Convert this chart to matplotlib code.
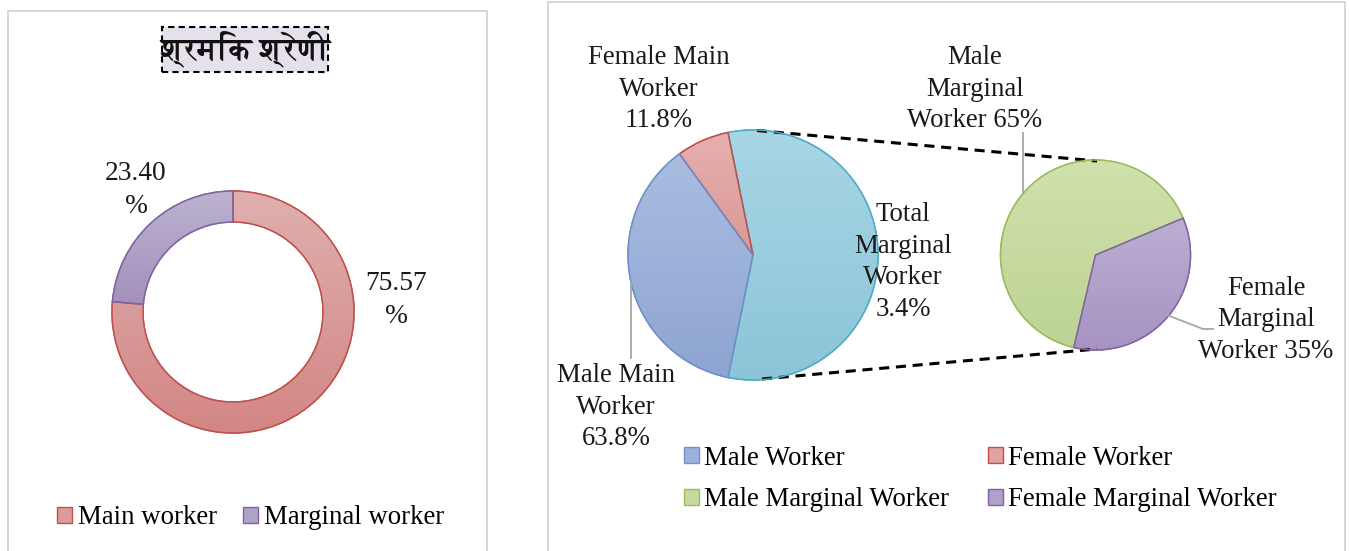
import numpy as np
import matplotlib
matplotlib.use('Agg')
import matplotlib.pyplot as plt
from matplotlib import font_manager
from matplotlib.ft2font import FT2Font
from matplotlib.patches import Rectangle, PathPatch
from matplotlib.colors import LinearSegmentedColormap, to_rgb

# ---------------- data ----------------
donut_categories = ['Main worker', 'Marginal worker']
donut_values = [75.57, 23.40]
donut_labels = ['75.57\n%', '23.40\n%']
title_text = 'श्रमिक श्रेणी'

main_categories = ['Total Marginal Worker', 'Female Main Worker', 'Male Main Worker']
main_shares = [56.4, 6.8, 36.8]          # slice sizes as drawn in the picture
main_labels = ['Total\nMarginal\nWorker\n3.4%', 'Female Main\nWorker\n11.8%',
               'Male Main\nWorker\n63.8%']

sub_categories = ['Male Marginal Worker', 'Female Marginal Worker']
sub_shares = [65, 35]
sub_labels = ['Male\nMarginal\nWorker 65%', 'Female\nMarginal\nWorker 35%']

legend_labels = ['Male Worker', 'Female Worker', 'Male Marginal Worker', 'Female Marginal Worker']

# ---------------- style ----------------
W, H = 1349, 551
FS = 19.3
SERIF = 'Liberation Serif'

def find_font(ch):
    hits = []
    for f in font_manager.fontManager.ttflist:
        try:
            ft = FT2Font(f.fname)
            if ord(ch) in ft.get_charmap():
                hits.append(f)
        except Exception:
            pass
    if not hits:
        return None
    bold = [f for f in hits if str(f.weight) in ('700', 'bold')]
    return (bold or hits)[0]

deva = find_font('श')

fig = plt.figure(figsize=(W / 100, H / 100), dpi=100)
ax = fig.add_axes([0, 0, 1, 1])
ax.set_axis_off()

def Y(y):
    return H - y

def gradient_fill(wedges, tops, bottoms, edges, lw=1.1):
    for w, t, b, e in zip(wedges, tops, bottoms, edges):
        ext = w.get_path().get_extents()
        cmap = LinearSegmentedColormap.from_list('g', [to_rgb(b), to_rgb(t)])
        grad = np.linspace(0, 1, 256).reshape(-1, 1)
        im = ax.imshow(grad, cmap=cmap, origin='lower', aspect='auto',
                       extent=[ext.x0, ext.x1, ext.y0, ext.y1], zorder=1.5,
                       interpolation='bilinear')
        im.set_clip_path(w)
        ax.add_patch(PathPatch(w.get_path(), fc='none', ec=e, lw=lw, zorder=3))

# panel borders
ax.add_patch(Rectangle((8, Y(570)), 479, 559, fc='none', ec='#D0D0D0', lw=1.2, zorder=0))
ax.add_patch(Rectangle((548, Y(570)), 797, 568, fc='none', ec='#D0D0D0', lw=1.2, zorder=0))

# ---------------- left: donut ----------------
d_mid = ['#D99C9A', '#B0A3C7']
d_top = ['#DFB0AE', '#BDB3D0']
d_bot = ['#D38684', '#A190BC']
d_edge = ['#C0504D', '#8064A2']
dw, _ = ax.pie(donut_values, center=(233, Y(312)), radius=121, startangle=90,
               counterclock=False, colors=d_mid,
               wedgeprops=dict(width=31, edgecolor='none'))
for w, e in zip(dw, d_edge):
    w.set_edgecolor(e)
gradient_fill(dw, d_top, d_bot, d_edge)

ax.text(396, Y(300), donut_labels[0], ha='center', va='center', fontsize=19.8,
        family=SERIF, linespacing=1.45, color='#1a1a1a')
ax.text(136, Y(190), donut_labels[1], ha='center', va='center', fontsize=19.8,
        family=SERIF, linespacing=1.45, color='#1a1a1a')

ax.add_patch(Rectangle((162, Y(72)), 166, 45, fc='#E6E0EC', ec='black', ls=(0, (3, 2)),
                       lw=1.5, zorder=4))
if deva is not None:
    ax.text(245, Y(49), title_text, fontproperties=font_manager.FontProperties(
        fname=deva.fname, size=22, weight='bold'), ha='center', va='center', zorder=5,
        color='#111111')
else:
    ax.text(245, Y(49), title_text, fontweight='bold', ha='center', va='center',
            fontsize=22, zorder=5, color='#111111')

leg1 = ax.legend(dw, donut_categories, loc='center left', bbox_to_anchor=(57, Y(518)),
                 bbox_transform=ax.transData, ncol=2, frameon=False,
                 prop=dict(family=SERIF, size=FS), handlelength=0.55, handleheight=0.55,
                 handletextpad=0.25, columnspacing=0.95, borderpad=0, borderaxespad=0)
ax.add_artist(leg1)

# ---------------- right: pie of pie ----------------
m_mid = ['#9ACDDF', '#E0A3A2', '#9DB2DB']
m_top = ['#A8D6E5', '#E6B0AF', '#AABDE1']
m_bot = ['#8CC4D8', '#DA9896', '#8EA5D2']
m_edge = ['#4BACC6', '#C0504D', '#6F90C8']
mw, _ = ax.pie(main_shares, center=(753, Y(255)), radius=125, startangle=-101.5,
               counterclock=True, colors=m_mid, wedgeprops=dict(edgecolor='none'))
for w, e in zip(mw, m_edge):
    w.set_edgecolor(e)
gradient_fill(mw, m_top, m_bot, m_edge)

s_mid = ['#C6DAA0', '#B1A0CA']
s_top = ['#D0E1AD', '#BCAED3']
s_bot = ['#BDD394', '#A693C2']
s_edge = ['#9BBB59', '#8064A2']
sw, _ = ax.pie(sub_shares, center=(1095.5, Y(255)), radius=95, startangle=22.8,
               counterclock=True, colors=s_mid, wedgeprops=dict(edgecolor='none'))
for w, e in zip(sw, s_edge):
    w.set_edgecolor(e)
gradient_fill(sw, s_top, s_bot, s_edge)

# connector lines
ax.plot([757, 1097], [Y(130.5), Y(161)], color='black', lw=2.2, ls=(0, (3.3, 2.2)), zorder=2)
ax.plot([762, 1097], [Y(379), Y(349)], color='black', lw=2.2, ls=(0, (3.3, 2.2)), zorder=2)

# leader lines
lc = '#A6A6A6'
ax.plot([1023, 1023], [Y(133), Y(193)], color=lc, lw=1.3, zorder=4)
ax.plot([1167, 1203, 1213], [Y(315), Y(329), Y(329)], color=lc, lw=1.3, zorder=4)
ax.plot([631, 631], [Y(282), Y(358)], color=lc, lw=1.3, zorder=4)

lkw = dict(ha='center', va='center', fontsize=FS, family=SERIF, linespacing=1.36,
           color='#1a1a1a', zorder=5)
ax.text(903, Y(262), main_labels[0], **lkw)
ax.text(659, Y(89), main_labels[1], **lkw)
ax.text(616, Y(407), main_labels[2], **lkw)
ax.text(975, Y(89), sub_labels[0], **lkw)
ax.text(1266, Y(320), sub_labels[1], **lkw)

handles = [mw[2], sw[0], mw[1], sw[1]]
labels = [legend_labels[0], legend_labels[2], legend_labels[1], legend_labels[3]]
ax.legend(handles, labels, loc='center left', bbox_to_anchor=(684, Y(479)),
          bbox_transform=ax.transData, ncol=2, frameon=False,
          prop=dict(family=SERIF, size=FS), handlelength=0.55, handleheight=0.55,
          handletextpad=0.2, columnspacing=1.45, labelspacing=0.62, borderpad=0,
          borderaxespad=0)

ax.set_aspect('equal')
ax.set_xlim(0, W)
ax.set_ylim(0, H)
fig.savefig('out.png', dpi=100)
